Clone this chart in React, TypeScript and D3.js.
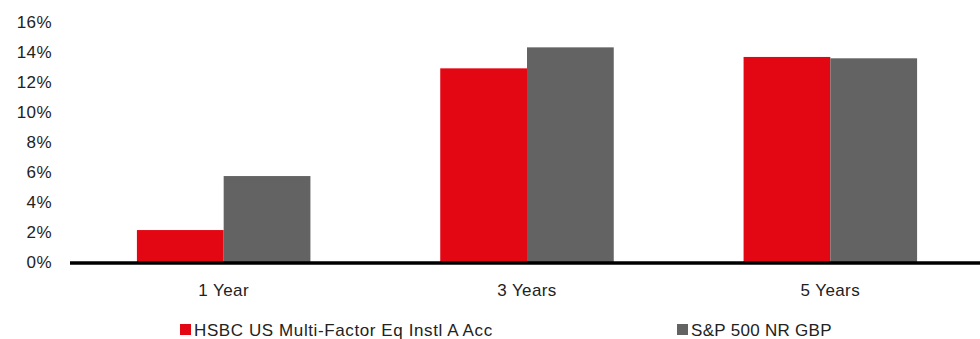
import React from "react";
import * as d3 from "d3";

const categories = ["1 Year", "3 Years", "5 Years"];
const seriesNames = ["HSBC US Multi-Factor Eq Instl A Acc", "S&P 500 NR GBP"];
const fundValues = [2.13, 12.91, 13.67];
const indexValues = [5.73, 14.31, 13.58];
const yTicks = [0, 2, 4, 6, 8, 10, 12, 14, 16];
const colors = ["#e30613", "#636363"];

const W = 980;
const H = 339;
const margin = { left: 72, right: -2, top: 22, bottom: 77 };

export default function App() {
  const x = d3
    .scaleBand<string>()
    .domain(categories)
    .range([margin.left, W - margin.right])
    .paddingInner(0.428)
    .paddingOuter(0.214);
  const sub = d3.scaleBand<number>().domain([0, 1]).range([0, x.bandwidth()]);
  const y = d3.scaleLinear().domain([0, 16]).range([262, 22]);
  const series = [fundValues, indexValues];
  const font = "'Liberation Sans', Arial, sans-serif";

  return (
    <svg
      width={W}
      height={H}
      style={{ position: "absolute", left: 0, top: 0, fontFamily: font }}
    >
      <rect width={W} height={H} fill="#fff" />
      {yTicks.map((t) => (
        <text
          key={t}
          x={52}
          y={y(t)}
          dy="0.35em"
          textAnchor="end"
          fontSize={17}
          letterSpacing={0.4}
          fill="#222"
        >
          {t}%
        </text>
      ))}
      {series.map((vals, si) =>
        categories.map((c, ci) => (
          <rect
            key={`${si}-${ci}`}
            x={(x(c) as number) + (sub(si) as number)}
            y={y(vals[ci])}
            width={sub.bandwidth()}
            height={y(0) - y(vals[ci])}
            fill={colors[si]}
          />
        ))
      )}
      <line x1={70} x2={W} y1={y(0) + 1} y2={y(0) + 1} stroke="#000" strokeWidth={3.5} />
      {categories.map((c) => (
        <text
          key={c}
          x={(x(c) as number) + x.bandwidth() / 2}
          y={290}
          dy="0.35em"
          textAnchor="middle"
          fontSize={17}
          letterSpacing={0.4}
          fill="#222"
        >
          {c}
        </text>
      ))}
      {seriesNames.map((n, i) => {
        const lx = [180, 677][i];
        return (
          <g key={n}>
            <rect x={lx} y={324} width={11} height={11} fill={colors[i]} />
            <text
              x={lx + 14}
              y={330}
              dy="0.35em"
              fontSize={17}
              letterSpacing={i === 0 ? 0.6 : 0.3}
              fill="#222"
            >
              {n}
            </text>
          </g>
        );
      })}
    </svg>
  );
}
